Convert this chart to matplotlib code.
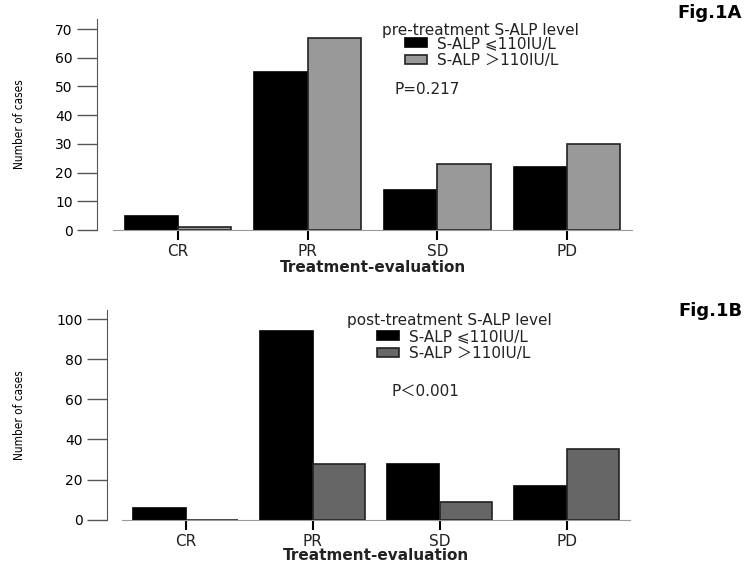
import matplotlib
matplotlib.use("Agg")
import matplotlib.pyplot as plt
import numpy as np

categories = ["CR", "PR", "SD", "PD"]
pre_low = [5, 55, 14, 22]
pre_high = [1, 67, 23, 30]
post_low = [6, 94, 28, 17]
post_high = [0, 28, 9, 35]

label_low = "S-ALP ⩽110IU/L"
label_high = "S-ALP ＞110IU/L"

FAM = ["DejaVu Sans", "Noto Sans CJK SC"]
TXT = "#222222"

W, H = 750, 566
fig = plt.figure(figsize=(W / 100, H / 100), dpi=100)


def px_box(left, right, top, bottom):
    return [left / W, 1 - bottom / H, (right - left) / W, (bottom - top) / H]


def draw_panel(ax, low, high, high_color, ymax, yticks, spine_off, ylab_x, xlab_y):
    x = np.arange(len(categories))
    bw = 0.41
    ax.bar(x - bw / 2, low, width=bw, color="black", edgecolor="black", linewidth=1.2, label=label_low)
    ax.bar(x + bw / 2, high, width=bw, color=high_color, edgecolor="#222222", linewidth=1.2, label=label_high)

    ax.set_xlim(-0.5, 3.5)
    ax.set_ylim(0, ymax)
    ax.set_yticks(yticks)
    ax.set_xticks(x)
    ax.set_xticklabels(categories, fontsize=11, color=TXT, family=FAM)
    for t in ax.get_yticklabels():
        t.set_fontsize(10)
        t.set_color(TXT)

    for s in ("top", "right"):
        ax.spines[s].set_visible(False)
    ax.spines["left"].set_position(("outward", spine_off))
    ax.spines["left"].set_color("#555555")
    ax.spines["bottom"].set_color("#999999")
    ax.tick_params(axis="y", length=14.4, width=1, color="#555555", pad=3)
    ax.tick_params(axis="x", length=7.2, width=1.5, color="black", pad=3)

    ax.set_ylabel("Number of cases", fontsize=8.5, family="DejaVu Sans", fontstretch="condensed",
                  color="black")
    ax.yaxis.set_label_coords(ylab_x, 0.5)
    ax.set_xlabel("Treatment-evaluation", fontsize=11, fontweight="bold", color=TXT, va="center")
    ax.xaxis.set_label_coords(0.5, xlab_y)


def add_legend(ax, x_px, y_px):
    ax.legend(loc="upper left", bbox_to_anchor=(x_px / W, 1 - y_px / H), bbox_transform=fig.transFigure,
              frameon=False, handlelength=1.45, handleheight=0.55, handletextpad=0.65,
              labelspacing=0.1, borderpad=0, borderaxespad=0, labelcolor=TXT,
              prop={"family": FAM, "size": 11})


# Fig.1A
ax1 = fig.add_axes(px_box(113, 632, 19, 230))
draw_panel(ax1, pre_low, pre_high, "#999999", 73.5, range(0, 71, 10), 11.5, -0.168, -0.178)
fig.text(382 / W, 1 - 30 / H, "pre-treatment S-ALP level", fontsize=11, color=TXT, va="center", family=FAM)
add_legend(ax1, 405, 36)
fig.text(395 / W, 1 - 90 / H, "P=0.217", fontsize=11, color=TXT, va="center", family=FAM)
fig.text(742 / W, 1 - 12.5 / H, "Fig.1A", fontsize=13, fontweight="bold", ha="right", va="center")

# Fig.1B
ax2 = fig.add_axes(px_box(122, 630, 310, 519.7))
draw_panel(ax2, post_low, post_high, "#666666", 104.5, range(0, 101, 20), 10.8, -0.189, -0.173)
fig.text(347 / W, 1 - 321 / H, "post-treatment S-ALP level", fontsize=11, color=TXT, va="center", family=FAM)
add_legend(ax2, 377, 329)
fig.text(392 / W, 1 - 391 / H, "P＜0.001", fontsize=11, color=TXT, va="center", family=FAM)
fig.text(742 / W, 1 - 311 / H, "Fig.1B", fontsize=13, fontweight="bold", ha="right", va="center")

fig.savefig("out.png", dpi=100)
